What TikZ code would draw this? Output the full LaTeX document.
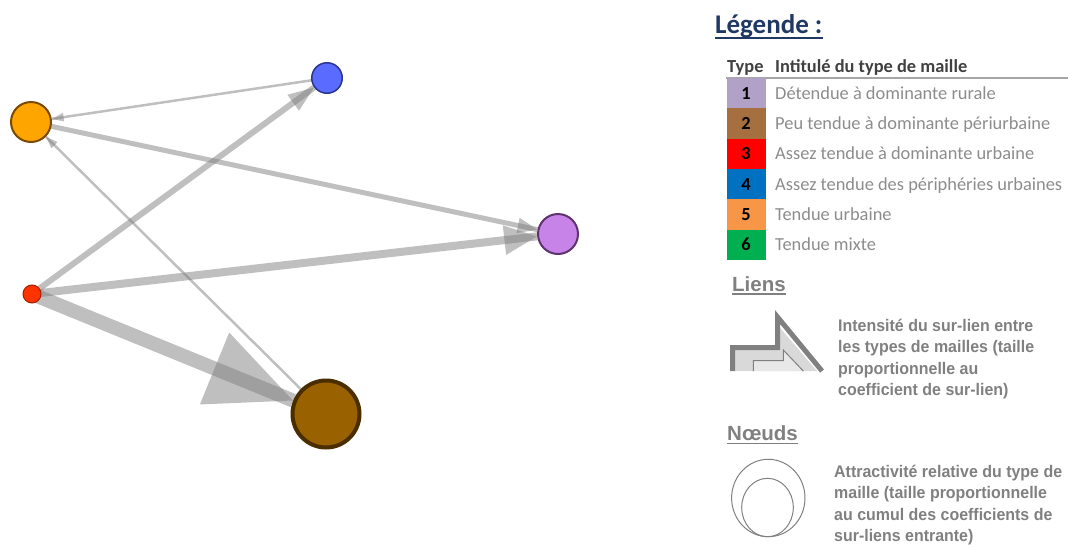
\documentclass[tikz,border=0pt]{standalone}
\usepackage{fontspec}
\setmainfont{Carlito}
\newfontfamily\arialfont{Liberation Sans}
\newfontfamily\arialetroit[FakeStretch=0.95]{Liberation Sans}
\usetikzlibrary{arrows.meta,backgrounds}
\definecolor{marine}{HTML}{1F3864}
\definecolor{entete}{HTML}{404040}
\definecolor{textegris}{HTML}{8C8C8C}
\definecolor{noticegris}{HTML}{808080}
\definecolor{type1}{HTML}{B2A1C7}
\definecolor{type2}{HTML}{A66F3F}
\definecolor{type3}{HTML}{FF0000}
\definecolor{type4}{HTML}{0070C0}
\definecolor{type5}{HTML}{F79646}
\definecolor{type6}{HTML}{00B050}
\tikzset{
  sommet/.style={circle, inner sep=0pt, draw},
  lien/.style={draw=gray, opacity=.5, line width=#1},
  pointe/.style 2 args={draw=gray, draw opacity=0, fill opacity=.5, line width=.2pt,
    -{Triangle[length=#1, width=#2]}},
  case/.style={fill=#1, minimum width=39pt, minimum height=30.3pt, inner sep=0pt,
    font=\bfseries\fontsize{18.4}{20}\selectfont},
  intitule/.style={anchor=base west, inner sep=0pt, text=textegris,
    font=\fontsize{18.4}{20}\selectfont},
  rubrique/.style={anchor=base west, inner sep=0pt, text=noticegris,
    font=\arialfont\bfseries\fontsize{20.5}{24}\selectfont},
  notice/.style={anchor=north west, inner sep=0pt, align=left, text=noticegris,
    font=\arialetroit\bfseries\fontsize{16.8}{21.5}\selectfont},
}
\begin{document}
\begin{tikzpicture}[x=1pt, y=-1pt]
  \useasboundingbox (0,0) rectangle (1068,544);
  % graphe des sur-liens
  \draw
    (558,234) node[sommet, minimum size=40pt, line width=2pt,
      fill={rgb,255:red,200;green,131;blue,232}, draw={rgb,255:red,94;green,51;blue,110}] (1){}
    (326,414) node[sommet, minimum size=67pt, line width=4pt,
      fill={rgb,255:red,154;green,97;blue,0}, draw={rgb,255:red,74;green,46;blue,0}] (2){}
    (32,294) node[sommet, minimum size=18pt, line width=1pt,
      fill={rgb,255:red,255;green,51;blue,0}, draw={rgb,255:red,160;green,32;blue,0}] (3){}
    (327,78) node[sommet, minimum size=30.5pt, line width=1.5pt,
      fill={rgb,255:red,90;green,108;blue,255}, draw={rgb,255:red,42;green,53;blue,144}] (4){}
    (31,122) node[sommet, minimum size=40pt, line width=2pt,
      fill={rgb,255:red,255;green,165;blue,0}, draw={rgb,255:red,122;green,74;blue,0}] (5){};
  \begin{scope}[on background layer]
    \draw[lien=14pt] (3.center) to (2);
    \draw[lien=8pt] (3.center) to (1);
    \draw[lien=6pt] (3.center) to (4);
    \draw[lien=5pt] (5.center) to (1);
    \draw[lien=2.5pt] (4.center) to (5);
    \draw[lien=2.5pt] (2.center) to (5);
    \draw[pointe={85pt}{78pt}] (3) to (2);
    \draw[pointe={33pt}{30pt}] (3) to (1);
    \draw[pointe={26pt}{20pt}] (3) to (4);
    \draw[pointe={20pt}{16pt}] (5) to (1);
    \draw[pointe={12pt}{9pt}] (4) to (5);
    \draw[pointe={12pt}{9pt}] (2) to (5);
  \end{scope}
  % legende
  \node[anchor=base west, inner sep=0pt, text=marine,
    font=\bfseries\fontsize{27}{30}\selectfont] (legende) at (715,33) {Légende :};
  \draw[marine, line width=2pt]
    ([yshift=-4.5pt]legende.base west) -- ([yshift=-4.5pt]legende.base east);
  \node[intitule, text=entete, font=\bfseries\fontsize{18.4}{20}\selectfont] (type) at (727,72) {Type};
  \node[intitule, text=entete, font=\bfseries\fontsize{18.4}{20}\selectfont] (libelle) at (775,72) {Intitulé du type de maille};
  \draw[gray!70, line width=2pt] (726,77.5) -- (1068,77.5);
  \node[case=type1] (c1) at (746,93.15) {1};
  \node[case=type2] (c2) at (746,123.45) {2};
  \node[case=type3] (c3) at (746,153.75) {3};
  \node[case=type4] (c4) at (746,184.05) {4};
  \node[case=type5] (c5) at (746,214.35) {5};
  \node[case=type6] (c6) at (746,244.65) {6};
  \node[intitule] (i1) at (775,99.2) {Détendue à dominante rurale};
  \node[intitule] (i2) at (775,129.5) {Peu tendue à dominante périurbaine};
  \node[intitule] (i3) at (775,159.8) {Assez tendue à dominante urbaine};
  \node[intitule] (i4) at (775,190.1) {Assez tendue des périphéries urbaines};
  \node[intitule] (i5) at (775,220.4) {Tendue urbaine};
  \node[intitule] (i6) at (775,250.7) {Tendue mixte};
  % liens
  \node[rubrique] (liens) at (732,291) {Liens};
  \draw[noticegris, line width=1.5pt]
    ([yshift=-3pt]liens.base west) -- ([yshift=-3pt]liens.base east);
  \fill[gray!30] (735,371) -- (735,350) -- (775,350) -- (775,322) -- (817,371) -- cycle;
  \fill[gray!18] (753.3,371) -- (753.3,360.7) -- (783.3,360.7) -- (783.3,350) -- (803.3,371) -- cycle;
  \draw[noticegris, line width=5pt] (732.5,371) -- (732.5,347.5) -- (777.5,347.5) -- (777.5,317) -- (822,371);
  \draw[noticegris, line width=1pt] (753.3,371) -- (753.3,360.7) -- (783.3,360.7) -- (783.3,350) -- (803.3,371);
  \node[notice] (notice liens) at (838,318.5)
    {Intensité du sur-lien entre\\les types de mailles (taille\\proportionnelle au\\coefficient de sur-lien)};
  % noeuds
  \node[rubrique] (noeuds) at (727,440) {Nœuds};
  \draw[noticegris, line width=1.5pt]
    ([yshift=-3.5pt]noeuds.base west) -- ([yshift=-3.5pt]noeuds.base east);
  \draw[noticegris, line width=1pt] (768.3,498) ellipse [x radius=36.7, y radius=38.7];
  \draw[noticegris, line width=1pt] (767.5,507.5) ellipse [x radius=25.8, y radius=29.2];
  \node[notice] (notice noeuds) at (834,464.5)
    {Attractivité relative du type de\\maille (taille proportionnelle\\au cumul des coefficients de\\sur-liens entrante)};
\end{tikzpicture}
\end{document}
